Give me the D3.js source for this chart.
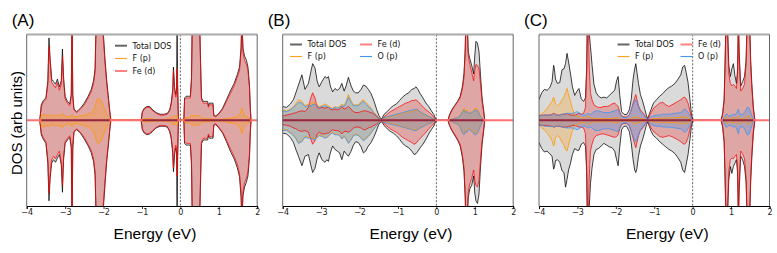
<!DOCTYPE html>
<html>
<head>
<meta charset="utf-8">
<title>DOS panels</title>
<script src="https://d3js.org/d3.v7.min.js"></script>
<style>
  body { margin: 0; background: #fff; }
  svg { display: block; }
</style>
</head>
<body>
<script>
// ---------- data (spin-down stored as positive magnitudes) ----------
const ticksE = [-4, -3, -2, -1, 0, 1, 2]

// panel A
const energyA = [-3.66,-3.62,-3.57,-3.5,-3.45,-3.42,-3.39,-3.35,-3.3,-3.25,-3.2,-3.15,-3.1,-3.07,-3.04,-3.0,-2.94,-2.88,-2.84,-2.82,-2.8,-2.77,-2.7,-2.6,-2.5,-2.4,-2.32,-2.26,-2.22,-2.19,-2.15,-2.1,-2.05,-2.0,-1.96,-1.92,-1.88,-1.84,-1.81,
  -1.02,-0.99,-0.94,-0.87,-0.8,-0.72,-0.63,-0.53,-0.43,-0.34,-0.28,-0.24,-0.2,-0.18,-0.15,-0.12,-0.1,-0.085,-0.07,-0.05,
  0.09,0.11,0.15,0.21,0.26,0.29,0.31,0.36,0.41,0.46,0.5,0.52,0.55,0.6,0.66,0.71,0.73,0.76,0.81,0.85,0.87,0.92,1.0,1.1,1.2,1.3,1.4,1.48,1.54,1.58,1.6,1.63,1.67,1.72,1.76,1.8,1.82,1.84]
const totalUpA = [0,1.8,2.3,2.6,4.6,9.6,7.2,4.8,4.5,4.2,4.8,3.9,4.6,8.3,5.0,2.8,2.2,1.9,3.0,12,3.0,1.3,1.0,1.4,2.0,2.8,3.6,4.6,6.0,12,12,12,12,9.8,7.0,4.8,3.0,1.2,0,
  0,1.0,1.4,1.6,1.6,1.2,0.9,0.7,0.7,0.8,1.2,2.0,3.5,6.2,3.8,3.0,3.5,12,4.0,0,
  0,2.6,2.8,2.8,2.8,5.0,12,12,12,12,12,8.0,2.6,2.2,2.2,2.2,1.7,2.0,2.0,2.0,0.6,0.5,0.8,1.4,2.4,3.4,4.3,5.3,6.2,8.5,12,8.4,7.5,7.0,6.2,4.0,1.5,0]
const totalDownA = [0,1.7,2.2,2.7,5.0,9.4,6.8,5.0,4.6,4.9,4.4,4.0,5.2,8.4,4.6,2.7,2.3,2.0,3.2,12,3.2,1.4,1.1,1.5,2.2,3.0,3.8,4.8,6.4,12,12,12,12,10,7.4,5.0,3.2,1.3,0,
  0,1.1,1.5,1.7,1.6,1.3,0.9,0.7,0.7,0.8,1.3,2.1,3.8,6.0,4.0,3.2,3.6,12,4.2,0,
  0,2.7,2.9,2.9,2.9,5.2,12,12,12,12,12,8.2,2.7,2.3,2.3,2.3,1.8,2.1,2.1,2.1,0.6,0.5,0.9,1.5,2.5,3.6,4.5,5.5,6.6,9.0,12,8.8,7.8,7.2,6.5,4.2,1.6,0]
const feUpA = [0,1.6,2.1,2.4,4.2,8.6,6.8,4.4,4.1,3.8,4.4,3.5,4.2,7.4,4.6,2.5,2.0,1.7,2.8,12,2.8,1.2,0.9,1.3,1.8,2.6,3.3,4.3,5.6,12,12,12,12,9.2,6.6,4.4,2.7,1.0,0,
  0,0.9,1.3,1.5,1.5,1.1,0.8,0.6,0.6,0.7,1.1,1.8,3.2,5.8,3.5,2.7,3.0,6.0,3.5,0,
  0,2.4,2.6,2.6,2.6,4.6,12,12,12,12,12,7.5,2.4,2.0,2.0,2.0,1.5,1.8,1.8,1.8,0.5,0.4,0.7,1.3,2.2,3.1,4.0,5.0,5.8,8.0,12,8.0,7.0,6.5,5.8,3.7,1.3,0]
const feDownA = [0,1.5,2.0,2.5,4.6,8.5,6.3,4.6,4.2,4.5,4.0,3.6,4.8,7.6,4.2,2.5,2.1,1.8,3.0,12,3.0,1.3,1.0,1.4,2.0,2.8,3.5,4.5,6.0,12,12,12,12,9.4,7.0,4.6,2.9,1.1,0,
  0,1.0,1.4,1.6,1.5,1.2,0.8,0.6,0.6,0.7,1.2,1.9,3.5,5.6,3.6,2.9,3.2,6.5,3.8,0,
  0,2.5,2.7,2.7,2.7,4.8,12,12,12,12,12,7.6,2.5,2.1,2.1,2.1,1.6,1.9,1.9,1.9,0.5,0.4,0.8,1.4,2.3,3.3,4.2,5.1,6.2,8.4,12,8.3,7.3,6.7,6.0,3.9,1.4,0]
const fpUpA = [0,0.5,0.7,0.6,0.5,0.6,0.6,0.5,0.5,0.6,0.6,0.5,0.6,0.8,0.6,0.5,0.4,0.4,0.5,0.7,0.5,0.4,0.4,0.5,0.6,0.7,0.9,1.2,1.6,2.2,2.5,2.5,2.2,1.6,1.1,0.7,0.4,0.15,0,
  0,0.1,0.15,0.2,0.2,0.15,0.1,0.1,0.1,0.15,0.2,0.3,0.4,0.5,0.4,0.5,0.6,0.5,0.2,0,
  0,0.2,0.3,0.3,0.4,0.5,0.6,0.5,0.5,0.6,0.5,0.4,0.3,0.2,0.2,0.2,0.15,0.2,0.2,0.2,0.1,0.1,0.1,0.15,0.2,0.25,0.3,0.4,0.6,1.0,1.4,1.0,0.5,0.4,0.3,0.2,0.1,0]
const fpDownA = [0,0.5,0.8,0.7,0.6,0.7,0.6,0.6,0.5,0.7,0.6,0.6,0.7,0.9,0.6,0.5,0.5,0.4,0.5,0.8,0.5,0.4,0.4,0.5,0.6,0.8,1.0,1.3,1.8,2.4,2.7,2.6,2.3,1.7,1.2,0.8,0.4,0.15,0,
  0,0.1,0.15,0.2,0.2,0.15,0.1,0.1,0.1,0.15,0.2,0.3,0.4,0.6,0.4,0.5,0.6,0.5,0.2,0,
  0,0.2,0.3,0.3,0.4,0.5,0.6,0.6,0.5,0.6,0.5,0.4,0.3,0.2,0.2,0.2,0.15,0.2,0.2,0.2,0.1,0.1,0.1,0.15,0.2,0.3,0.35,0.5,0.8,1.2,1.6,1.1,0.6,0.4,0.3,0.2,0.1,0]

// panel B
const energyB = [-4.0,-3.9,-3.8,-3.72,-3.65,-3.59,-3.5,-3.42,-3.33,-3.27,-3.22,-3.16,-3.1,-3.05,-2.98,-2.9,-2.85,-2.81,-2.76,-2.7,-2.64,-2.58,-2.52,-2.46,-2.4,-2.35,-2.29,-2.22,-2.16,-2.1,-2.03,-1.96,-1.9,-1.84,-1.77,-1.7,-1.62,-1.55,-1.5,-1.45,-1.42,-1.36,-1.28,-1.2,-1.12,-1.04,-0.96,-0.88,-0.8,-0.72,-0.64,-0.58,-0.53,-0.48,-0.42,-0.35,-0.27,-0.2,-0.13,-0.07,-0.03,0.0,
  0.3,0.34,0.4,0.47,0.55,0.62,0.68,0.72,0.75,0.77,0.8,0.83,0.87,0.92,0.97,1.0,1.03,1.07,1.11,1.15,1.19,1.23,1.26]
const totalUpB = [1.6,1.5,1.9,2.4,3.3,4.1,5.3,3.6,4.3,5.6,6.6,6.1,4.5,3.9,4.5,5.1,4.9,5.1,4.0,3.3,3.7,3.5,3.7,4.3,3.4,4.0,5.0,4.0,3.4,3.2,3.2,3.6,4.1,4.0,3.6,3.1,2.2,1.2,0.6,0.2,0.2,0.7,1.0,1.4,1.7,1.9,2.3,2.7,3.0,3.2,3.6,3.7,3.9,3.6,3.1,2.6,2.0,1.6,1.1,0.7,0.3,0,
  0,0.6,1.2,1.7,2.2,2.8,4.0,5.5,8.2,12,12,8.0,7.2,6.4,5.4,7.5,9.2,9.0,8.0,5.2,2.6,1.2,0]
const totalDownB = [1.5,1.6,2.0,2.6,3.5,4.2,5.3,4.2,4.0,5.2,6.1,5.6,4.4,3.8,4.6,4.9,4.6,4.8,3.8,3.0,3.4,3.6,3.8,4.6,3.6,3.9,4.2,3.6,2.9,2.5,2.6,3.1,3.8,3.6,3.0,2.6,1.9,1.1,0.5,0.2,0.2,0.6,1.0,1.3,1.5,1.8,2.2,2.7,3.0,3.2,3.6,4.0,3.9,3.6,3.2,2.8,2.2,1.6,1.1,0.7,0.3,0,
  0,0.6,1.2,1.7,2.3,3.0,4.4,6.0,9.0,12,12,9.0,8.0,7.6,6.5,8.5,9.4,9.7,8.6,5.4,2.8,1.3,0]
const feUpB = [0.5,0.6,0.7,0.8,0.9,1.0,1.1,1.0,1.5,2.6,3.2,2.6,1.5,1.4,1.5,1.4,1.5,1.5,1.3,1.2,1.3,1.2,1.3,1.6,1.3,1.4,1.6,1.3,1.0,0.9,0.9,1.0,1.1,1.1,1.0,0.9,0.7,0.4,0.2,0.05,0.1,0.4,0.7,1.0,1.2,1.4,1.6,1.8,2.0,2.1,2.3,2.3,2.4,2.2,1.9,1.6,1.2,1.0,0.7,0.4,0.15,0,
  0,0.55,1.1,1.6,2.1,2.6,3.7,5.0,8.0,12,12,7.5,6.5,5.6,4.6,5.8,6.5,6.4,6.0,4.2,2.2,1.0,0]
const feDownB = [0.5,0.6,0.7,0.9,1.0,1.2,1.3,1.2,1.4,2.2,2.8,2.4,1.6,1.4,1.6,1.6,1.5,1.5,1.3,1.1,1.2,1.2,1.3,1.6,1.3,1.3,1.4,1.2,0.9,0.8,0.8,0.9,1.1,1.1,0.9,0.8,0.6,0.4,0.2,0.05,0.1,0.4,0.7,1.0,1.2,1.4,1.7,2.0,2.2,2.4,2.6,2.8,2.7,2.4,2.1,1.8,1.4,1.0,0.7,0.4,0.15,0,
  0,0.55,1.1,1.6,2.2,2.8,4.1,5.6,8.6,12,12,8.4,7.4,6.8,5.8,7.0,7.6,7.8,7.0,4.6,2.4,1.1,0]
const fpUpB = [1.2,1.1,1.3,1.6,2.0,2.4,2.2,1.7,1.9,1.9,2.0,2.1,1.8,1.6,1.7,1.9,1.8,1.7,1.5,1.4,1.6,1.5,1.6,1.9,1.7,2.2,3.0,2.3,1.8,1.8,1.8,2.2,2.4,2.1,1.8,1.4,0.9,0.6,0.3,0.1,0.1,0.25,0.35,0.45,0.55,0.6,0.7,0.8,0.9,1.0,1.1,1.1,1.2,1.1,0.9,0.75,0.55,0.4,0.3,0.15,0.05,0,
  0,0.05,0.15,0.25,0.35,0.6,1.2,1.4,1.0,1.2,1.2,0.9,0.9,1.0,1.2,1.4,1.4,1.3,0.9,0.5,0.2,0.05,0]
const fpDownB = [1.1,1.1,1.4,1.7,2.1,2.6,2.4,1.9,2.0,2.0,2.1,2.2,1.9,1.7,1.8,2.0,1.9,1.8,1.5,1.4,1.6,1.6,1.7,2.1,1.8,2.1,2.6,2.2,1.7,1.6,1.7,2.0,2.3,2.1,1.8,1.4,0.9,0.6,0.3,0.1,0.1,0.2,0.3,0.4,0.5,0.55,0.65,0.75,0.85,0.95,1.05,1.1,1.1,1.0,0.85,0.7,0.5,0.4,0.3,0.15,0.05,0,
  0,0.05,0.15,0.25,0.4,0.7,1.4,1.6,1.2,1.3,1.3,1.0,1.0,1.2,1.4,1.6,1.6,1.4,1.0,0.5,0.2,0.05,0]
const opUpB = [1.1,1.0,1.2,1.5,1.8,2.1,2.0,1.6,1.7,1.7,1.8,1.9,1.6,1.5,1.6,1.7,1.6,1.5,1.4,1.3,1.5,1.4,1.5,1.7,1.6,2.0,2.7,2.1,1.7,1.7,1.7,2.0,2.2,1.9,1.6,1.3,0.8,0.5,0.25,0.1,0.1,0.3,0.4,0.5,0.6,0.7,0.8,0.9,1.0,1.1,1.2,1.2,1.3,1.2,1.0,0.8,0.6,0.45,0.3,0.15,0.05,0,
  0,0.05,0.1,0.2,0.3,0.5,1.0,1.2,0.9,1.0,1.0,0.8,0.8,0.9,1.0,1.2,1.2,1.1,0.8,0.4,0.15,0.05,0]
const opDownB = [1.2,1.2,1.5,1.8,2.2,2.7,2.5,2.0,2.1,2.1,2.2,2.3,2.0,1.8,1.9,2.1,2.0,1.9,1.6,1.5,1.7,1.7,1.8,2.2,1.9,2.2,2.7,2.3,1.8,1.7,1.8,2.1,2.4,2.2,1.9,1.5,1.0,0.6,0.3,0.1,0.1,0.25,0.35,0.45,0.55,0.6,0.7,0.8,0.9,1.0,1.1,1.2,1.2,1.1,0.9,0.75,0.55,0.4,0.3,0.15,0.05,0,
  0,0.05,0.15,0.3,0.45,0.8,1.5,1.7,1.3,1.4,1.4,1.1,1.1,1.3,1.5,1.7,1.7,1.5,1.1,0.6,0.2,0.05,0]

// panel C
const energyC = [-4.0,-3.93,-3.86,-3.79,-3.72,-3.66,-3.62,-3.6,-3.57,-3.52,-3.46,-3.4,-3.35,-3.31,-3.27,-3.23,-3.18,-3.13,-3.07,-3.01,-2.96,-2.9,-2.84,-2.79,-2.76,-2.74,-2.72,-2.69,-2.66,-2.62,-2.57,-2.51,-2.45,-2.38,-2.31,-2.24,-2.17,-2.1,-2.03,-1.98,-1.94,-1.9,-1.85,-1.79,-1.72,-1.65,-1.6,-1.55,-1.51,-1.48,-1.45,-1.41,-1.36,-1.3,-1.24,-1.2,-1.17,-1.13,-1.08,-1.02,-0.94,-0.86,-0.78,-0.7,-0.62,-0.54,-0.46,-0.38,-0.31,-0.26,-0.21,-0.17,-0.12,-0.07,-0.03,0.02,
  0.74,0.78,0.82,0.85,0.87,0.9,0.94,0.98,1.02,1.06,1.1,1.14,1.17,1.19,1.21,1.25,1.3,1.35,1.39,1.42,1.45,1.48,1.51,1.54,1.58,1.62]
const totalUpC = [2.4,3.2,3.6,3.5,3.8,4.5,6.4,6.0,4.8,4.3,4.4,5.9,6.0,6.6,7.8,6.8,5.4,3.9,2.9,3.4,3.7,2.5,2.2,2.6,6,12,12,10,8.6,6.5,4.2,3.2,2.8,2.6,2.7,2.6,2.9,3.2,3.5,4.6,5.1,3.0,1.0,0.7,0.65,1.2,2.4,4.8,6.0,6.6,5.6,4.3,3.0,2.2,1.2,0.5,0.2,0.7,1.3,2.0,2.4,2.8,3.1,3.5,3.8,4.0,4.3,4.8,5.3,6.2,6.4,5.6,4.4,2.4,0.6,0,
  0,0.8,2.5,8,12,12,6.5,5.1,6.0,6.6,5.2,4.3,6,12,8,4.0,4.5,5.1,7,12,12,12,7,4.3,1.5,0]
const totalDownC = [2.6,3.3,3.7,3.6,3.9,4.2,5.7,5.5,4.7,4.6,4.9,5.9,6.1,7.8,6.9,5.8,5.0,4.0,3.3,3.5,3.5,2.8,2.6,3.0,6,12,12,10,7.4,5.6,4.0,3.4,3.3,3.0,2.7,2.9,3.1,3.2,3.6,4.6,5.3,3.2,1.1,0.7,0.7,1.3,2.6,4.6,5.8,6.1,5.6,4.2,3.0,2.2,1.2,0.5,0.2,0.7,1.3,1.8,2.1,2.5,2.8,3.1,3.4,3.6,3.9,4.4,4.9,5.8,6.1,5.2,4.0,2.2,0.6,0,
  0,0.8,2.6,8,12,12,7.0,5.4,6.2,5.4,5.0,4.6,6.2,12,8.2,4.2,4.6,5.4,7.2,12,12,12,7.2,4.4,1.5,0]
const feUpC = [0.5,0.6,0.6,0.6,0.6,0.7,0.8,0.8,0.7,0.6,0.6,0.7,0.7,0.7,0.8,0.7,0.6,0.6,0.6,0.7,0.8,0.7,0.8,1.5,5.5,12,12,6,3.2,2.4,1.8,1.6,1.5,1.5,1.6,1.6,1.7,1.9,2.0,1.8,1.6,1.0,0.5,0.4,0.4,0.6,1.2,2.0,2.6,3.0,2.4,1.7,1.2,0.9,0.5,0.2,0.1,0.5,0.9,1.4,1.7,2.0,2.1,1.8,1.6,1.8,2.0,2.2,2.4,2.6,2.7,2.5,2.0,1.1,0.3,0,
  0,0.7,2.3,8,12,12,5.5,4.3,4.0,4.2,4.0,3.7,5.5,12,7.5,3.4,3.7,4.2,6.5,12,12,12,6.5,3.8,1.2,0]
const feDownC = [0.5,0.6,0.6,0.6,0.7,0.7,0.8,0.8,0.7,0.7,0.7,0.8,0.8,0.8,0.8,0.7,0.7,0.6,0.6,0.7,0.8,0.8,0.9,1.6,5.5,12,12,6.5,3.6,2.8,2.1,1.8,1.7,1.6,1.6,1.7,1.8,1.9,2.0,1.9,1.7,1.0,0.5,0.4,0.4,0.6,1.3,2.1,2.8,3.2,2.6,1.8,1.2,0.9,0.5,0.2,0.1,0.5,0.9,1.3,1.6,1.9,2.0,1.9,1.8,1.9,2.1,2.3,2.5,2.7,2.8,2.6,2.0,1.1,0.3,0,
  0,0.7,2.4,8,12,12,6.0,4.6,4.4,4.5,4.2,4.0,5.7,12,7.6,3.6,3.9,4.5,6.7,12,12,12,6.7,3.9,1.2,0]
const fpUpC = [0.5,0.8,1.0,1.4,1.8,2.2,2.7,2.5,1.9,1.7,1.9,2.4,2.7,3.2,3.7,3.0,2.2,1.3,0.7,0.5,0.4,0.3,0.3,0.3,0.4,0.5,0.5,0.4,0.3,0.3,0.2,0.2,0.2,0.2,0.2,0.2,0.2,0.2,0.25,0.3,0.3,0.2,0.1,0.1,0.1,0.15,0.2,0.3,0.4,0.4,0.35,0.3,0.2,0.15,0.1,0.05,0.05,0.1,0.15,0.2,0.2,0.25,0.25,0.25,0.25,0.3,0.3,0.3,0.35,0.4,0.4,0.35,0.3,0.2,0.05,0,
  0,0.05,0.1,0.3,0.4,0.4,0.2,0.2,0.25,0.3,0.25,0.2,0.3,0.5,0.3,0.2,0.2,0.25,0.3,0.5,0.5,0.4,0.3,0.15,0.05,0]
const fpDownC = [0.5,0.9,1.1,1.5,1.9,2.4,3.0,2.8,2.0,1.8,2.0,2.6,2.9,3.4,3.6,2.9,2.0,1.2,0.7,0.5,0.4,0.3,0.3,0.3,0.4,0.5,0.5,0.4,0.3,0.3,0.2,0.2,0.2,0.2,0.2,0.2,0.2,0.2,0.25,0.3,0.3,0.2,0.1,0.1,0.1,0.15,0.2,0.3,0.4,0.4,0.35,0.3,0.2,0.15,0.1,0.05,0.05,0.1,0.15,0.2,0.2,0.25,0.25,0.25,0.25,0.3,0.3,0.3,0.35,0.4,0.4,0.35,0.3,0.2,0.05,0,
  0,0.05,0.1,0.3,0.4,0.4,0.2,0.2,0.25,0.3,0.25,0.2,0.3,0.5,0.3,0.2,0.2,0.25,0.3,0.5,0.5,0.4,0.3,0.15,0.05,0]
const opUpC = [0.5,0.55,0.6,0.6,0.6,0.6,0.7,0.7,0.6,0.6,0.6,0.7,0.7,0.8,0.8,0.8,0.8,0.8,0.9,1.0,0.9,0.7,0.6,0.6,0.7,0.8,0.8,0.7,0.7,0.8,1.0,1.1,1.1,1.0,0.9,0.9,0.9,1.0,1.1,1.2,1.2,0.8,0.4,0.3,0.3,0.6,1.2,1.8,2.2,2.4,2.1,1.6,1.0,0.7,0.4,0.2,0.1,0.3,0.4,0.5,0.6,0.6,0.7,0.7,0.7,0.75,0.8,0.85,0.9,1.1,1.3,1.2,0.9,0.5,0.15,0,
  0,0.1,0.3,0.6,0.7,0.7,0.5,0.5,0.6,0.7,0.6,0.8,1.1,1.3,0.9,0.6,0.7,0.9,1.2,1.5,1.5,1.3,0.9,0.5,0.15,0]
const opDownC = [0.6,0.6,0.7,0.7,0.7,0.7,0.8,0.8,0.7,0.7,0.7,0.8,0.8,0.9,0.9,0.9,0.9,0.9,1.0,1.1,1.0,0.8,0.7,0.7,0.8,0.9,0.9,0.8,0.8,0.9,1.1,1.2,1.2,1.1,1.0,1.0,1.0,1.1,1.2,1.3,1.3,0.9,0.4,0.3,0.3,0.7,1.3,1.9,2.3,2.5,2.2,1.7,1.1,0.8,0.4,0.2,0.1,0.3,0.5,0.6,0.7,0.7,0.8,0.8,0.8,0.85,0.9,0.95,1.0,1.2,1.4,1.3,1.0,0.6,0.15,0,
  0,0.1,0.3,0.7,0.8,0.8,0.6,0.6,0.7,0.8,0.7,0.9,1.3,1.6,1.1,0.7,0.8,1.0,1.4,1.7,1.7,1.5,1.0,0.6,0.15,0]

// ---------- layout ----------
const W = 777, H = 253
const plotW = 230.5
const plotTop = 34.5, plotBottom = 206

const styles = {
  total: { fill: "#dadada", stroke: "#000", sw: 0.75, legend: "#666", lw: 2 },
  fe:    { fill: "rgba(240,0,0,0.24)", stroke: "rgba(255,0,0,0.8)", sw: 0.9, legend: "#ff8080", lw: 2 },
  fp:    { fill: "rgba(255,153,0,0.25)", stroke: "#ff9900", sw: 0.8, legend: "#ffa020", lw: 1.1 },
  op:    { fill: "rgba(30,144,255,0.25)", stroke: "#3f95f0", sw: 0.8, legend: "#3f95f0", lw: 1.1 }
}

const panels = [
  { label: "(A)", left: 26.7, energy: energyA,
    series: [["total", totalUpA, totalDownA], ["fe", feUpA, feDownA], ["fp", fpUpA, fpDownA]],
    legend: [["total", "Total DOS", 115, 45.7], ["fp", "F (p)", 115, 58.5], ["fe", "Fe (d)", 115, 71]] },
  { label: "(B)", left: 282.7, energy: energyB,
    series: [["total", totalUpB, totalDownB], ["fe", feUpB, feDownB], ["fp", fpUpB, fpDownB], ["op", opUpB, opDownB]],
    legend: [["total", "Total DOS", 290, 44.5], ["fp", "F (p)", 290, 56.5], ["fe", "Fe (d)", 360, 44.5], ["op", "O (p)", 360, 56.5]] },
  { label: "(C)", left: 539, energy: energyC,
    series: [["total", totalUpC, totalDownC], ["fe", feUpC, feDownC], ["fp", fpUpC, fpDownC], ["op", opUpC, opDownC]],
    legend: [["total", "Total DOS", 617.5, 44.5], ["fp", "F (p)", 617.5, 56.5], ["fe", "Fe (d)", 680.5, 44.5], ["op", "O (p)", 680.5, 56.5]] }
]

const svg = d3.select("body").append("svg")
  .attr("width", W)
  .attr("height", H)
  .style("font-family", "DejaVu Sans, sans-serif")

panels.forEach(function(p, pi) {
  const x = d3.scaleLinear().domain([-4, 2]).range([p.left, p.left + plotW])
  const y = d3.scaleLinear().domain([-10, 10]).range([plotBottom, plotTop])

  const g = svg.append("g")

  g.append("clipPath").attr("id", "clip" + pi)
    .append("rect")
    .attr("x", x(-4)).attr("y", y(10))
    .attr("width", x(2) - x(-4)).attr("height", y(-10) - y(10))

  const plot = g.append("g").attr("clip-path", "url(#clip" + pi + ")")

  // pair energies with values, skipping anything a typo left short
  function rows(vals) {
    const n = Math.min(p.energy.length, vals.length)
    if (n !== p.energy.length) console.warn("length mismatch in panel", p.label)
    return d3.range(n).map(i => [p.energy[i], vals[i]])
  }

  const areaUp = d3.area().x(d => x(d[0])).y0(y(0)).y1(d => y(d[1]))
  const areaDn = d3.area().x(d => x(d[0])).y0(y(0)).y1(d => y(-d[1]))
  const lineUp = d3.line().x(d => x(d[0])).y(d => y(d[1]))
  const lineDn = d3.line().x(d => x(d[0])).y(d => y(-d[1]))

  // fills
  p.series.forEach(function(s) {
    const st = styles[s[0]]
    plot.append("path").datum(rows(s[1])).attr("d", areaUp).attr("fill", st.fill)
    plot.append("path").datum(rows(s[2])).attr("d", areaDn).attr("fill", st.fill)
  })

  // outlines
  p.series.forEach(function(s) {
    const st = styles[s[0]]
    plot.append("path").datum(rows(s[1])).attr("d", lineUp)
      .attr("fill", "none").attr("stroke", st.stroke).attr("stroke-width", st.sw)
    plot.append("path").datum(rows(s[2])).attr("d", lineDn)
      .attr("fill", "none").attr("stroke", st.stroke).attr("stroke-width", st.sw)
  })

  // zero line of the Fe (d) curve across the whole window
  plot.append("line")
    .attr("x1", x(-4)).attr("x2", x(2))
    .attr("y1", y(0)).attr("y2", y(0))
    .attr("stroke", "#ff7070").attr("stroke-width", 1.8)

  // dark band where the projected curves pile up at zero
  plot.append("path").datum(rows(p.series[0][1]))
    .attr("d", d3.line().defined(d => d[1] > 0).x(d => x(d[0])).y(y(0)))
    .attr("fill", "none").attr("stroke", "#6e1030").attr("stroke-opacity", 0.75).attr("stroke-width", 2.2)

  // Fermi level
  g.append("line")
    .attr("x1", x(0)).attr("x2", x(0))
    .attr("y1", y(10)).attr("y2", y(-10))
    .attr("stroke", "#222").attr("stroke-width", 0.7).attr("stroke-dasharray", "2,1.6")

  // frame
  g.append("line").attr("x1", x(-4)).attr("x2", x(2)).attr("y1", plotTop).attr("y2", plotTop)
    .attr("stroke", "#aaa").attr("stroke-width", 2)
  g.append("line").attr("x1", x(-4)).attr("x2", x(-4)).attr("y1", plotTop).attr("y2", plotBottom)
    .attr("stroke", "#555").attr("stroke-width", 0.9)
  g.append("line").attr("x1", x(2)).attr("x2", x(2)).attr("y1", plotTop).attr("y2", plotBottom)
    .attr("stroke", "#555").attr("stroke-width", 0.9)

  const ax = g.append("g")
    .attr("transform", "translate(0," + plotBottom + ")")
    .call(d3.axisBottom(x).tickValues(ticksE).tickSize(3).tickPadding(0).tickFormat(d3.format("d")))
  ax.select(".domain").attr("stroke", "#000").attr("stroke-width", 1)
  ax.selectAll(".tick line").attr("stroke", "#000").attr("stroke-width", 0.8)
  ax.selectAll("text").attr("font-size", "8px").attr("font-family", "DejaVu Sans, sans-serif").attr("fill", "#222")

  // legend
  p.legend.forEach(function(l) {
    const st = styles[l[0]]
    g.append("line")
      .attr("x1", l[2]).attr("x2", l[2] + 12)
      .attr("y1", l[3]).attr("y2", l[3])
      .attr("stroke", st.legend).attr("stroke-width", st.lw)
    g.append("text")
      .attr("x", l[2] + 17.5).attr("y", l[3]).attr("dy", "0.35em")
      .attr("font-size", "8px").attr("fill", "#111")
      .text(l[1])
  })

  // panel letter and x label
  g.append("text")
    .attr("x", p.left - 15).attr("y", 25.5)
    .attr("font-family", "Liberation Sans, Arial, sans-serif").attr("font-size", "17px")
    .text(p.label)

  g.append("text")
    .attr("x", p.left + plotW / 2 + 13).attr("y", 238.5)
    .attr("text-anchor", "middle")
    .attr("font-family", "Liberation Sans, Arial, sans-serif").attr("font-size", "15.5px")
    .text("Energy (eV)")
})

svg.append("text")
  .attr("transform", "translate(21.5,123) rotate(-90)")
  .attr("text-anchor", "middle")
  .attr("font-family", "Liberation Sans, Arial, sans-serif").attr("font-size", "15px")
  .text("DOS (arb units)")
</script>
</body>
</html>
